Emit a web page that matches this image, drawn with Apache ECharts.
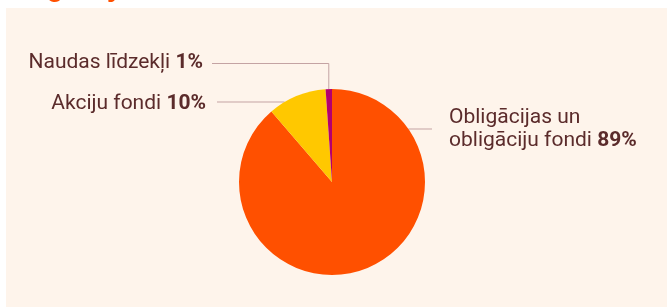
<!DOCTYPE html>
<html>
<head>
<meta charset="utf-8">
<script src="https://cdn.jsdelivr.net/npm/echarts@6/dist/echarts.min.js"></script>
<style>
  html, body { margin: 0; padding: 0; background: #fff; }
  #chart { width: 667px; height: 307px; }
</style>
</head>
<body>
<div id="chart"></div>
<script>
var categories = ['Obligācijas un\nobligāciju fondi', 'Akciju fondi', 'Naudas līdzekļi'];
var shares = [88.7, 10.2, 1.1]; // % no portfeļa
var colors = ['#ff5000', '#ffc800', '#b4006e'];

// label placement (px): text x/y, line y, where the line stops
var labelPos = [
  { x: 449, y: 129.5, lineY: 129, lineEnd: 432, align: 'left' },
  { x: 206, y: 104, lineY: 102, lineEnd: 217, align: 'right' },
  { x: 203, y: 63, lineY: 63.5, lineEnd: 212, align: 'right', bend: true }
];

var cx = 332, cy = 182, r = 93;
var textColor = '#5b2b2b';

var myChart = echarts.init(document.getElementById('chart'));

myChart.setOption({
  animation: false,
  graphic: [{
    type: 'rect',
    z: -10,
    silent: true,
    shape: { x: 6, y: 8, width: 661, height: 299 },
    style: { fill: '#fef4eb' }
  }, {
    type: 'text',
    z: -5,
    silent: true,
    x: 24,
    y: -25,
    style: {
      text: 'Ieguldījumu struktūra',
      fill: '#ff5000',
      font: 'bold 28px Roboto'
    }
  }],
  series: [{
    type: 'pie',
    center: [cx, cy],
    radius: r,
    startAngle: 90,
    clockwise: true,
    percentPrecision: 0,
    itemStyle: { borderWidth: 0 },
    data: categories.map(function (name, i) {
      return { name: name, value: shares[i], itemStyle: { color: colors[i] } };
    }),
    label: {
      show: true,
      position: 'outside',
      color: textColor,
      fontFamily: 'Roboto',
      fontSize: 21,
      lineHeight: 23,
      formatter: function (p) {
        return p.name + ' {b|' + p.percent + '%}';
      },
      rich: {
        b: { fontWeight: 'bold', fontFamily: 'Roboto', fontSize: 21, lineHeight: 23, color: textColor }
      }
    },
    labelLine: {
      show: true,
      lineStyle: { color: '#c4a3a3', width: 1 }
    },
    labelLayout: function (p) {
      var pos = labelPos[p.dataIndex];
      var pts;
      if (pos.bend) {
        var a = p.labelLinePoints ? p.labelLinePoints[0] : [cx, cy - r];
        pts = [[a[0], a[1]], [a[0], pos.lineY], [pos.lineEnd, pos.lineY]];
      } else {
        var dy = pos.lineY - cy;
        var dx = Math.sqrt(r * r - dy * dy);
        var edgeX = pos.align === 'left' ? cx + dx : cx - dx;
        pts = [[edgeX, pos.lineY], [edgeX, pos.lineY], [pos.lineEnd, pos.lineY]];
      }
      return {
        x: pos.x,
        y: pos.y,
        align: pos.align,
        verticalAlign: 'middle',
        labelLinePoints: pts
      };
    }
  }]
});
</script>
</body>
</html>
